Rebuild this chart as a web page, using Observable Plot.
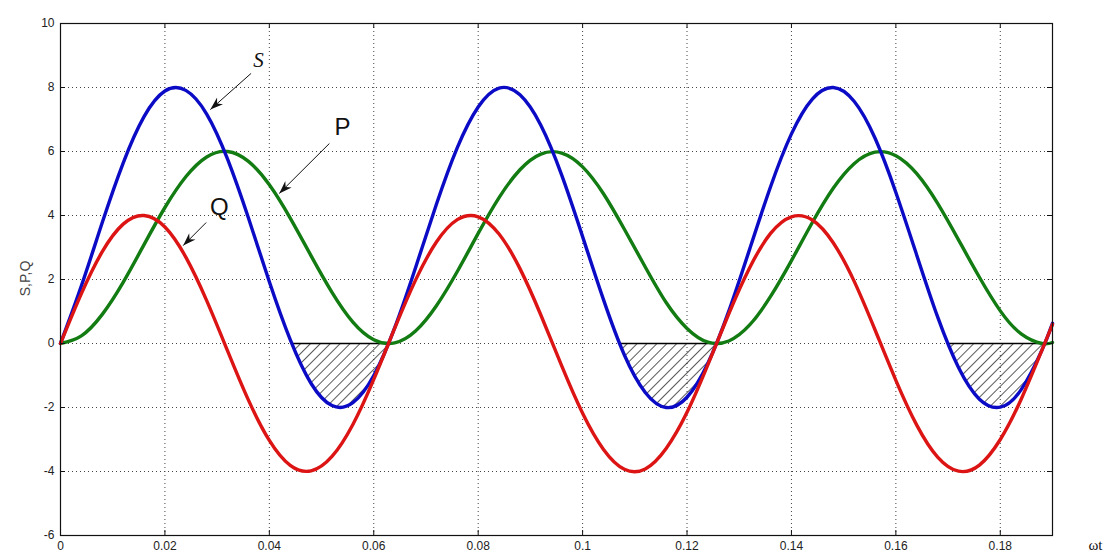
<!DOCTYPE html>
<html>
<head>
<meta charset="utf-8">
<script src="https://cdn.jsdelivr.net/npm/d3@7"></script>
<script src="https://cdn.jsdelivr.net/npm/@observablehq/plot@0.6"></script>
<style>
  html, body { margin: 0; padding: 0; background: white; }
</style>
</head>
<body>
<script>
// ---- data ----
const xs = [0, 0.004, 0.008, 0.012, 0.016, 0.020, 0.024, 0.028, 0.032, 0.036,
            0.040, 0.044, 0.048, 0.052, 0.056, 0.060, 0.064, 0.068, 0.072, 0.076,
            0.080, 0.084, 0.088, 0.092, 0.096, 0.100, 0.104, 0.108, 0.112, 0.116,
            0.120, 0.124, 0.128, 0.132, 0.136, 0.140, 0.144, 0.148, 0.152, 0.156,
            0.160, 0.164, 0.168, 0.172, 0.176, 0.180, 0.184, 0.188, 0.190];
const P = [0, 0.24, 0.91, 1.91, 3.09, 4.25, 5.21, 5.83, 6.00, 5.69,
           4.96, 3.92, 2.74, 1.60, 0.67, 0.12, 0.02, 0.39, 1.18, 2.25,
           3.44, 4.56, 5.43, 5.92, 5.95, 5.52, 4.68, 3.57, 2.39, 1.28,
           0.47, 0.04, 0.08, 0.58, 1.47, 2.59, 3.78, 4.85, 5.62, 5.98,
           5.87, 5.31, 4.38, 3.24, 2.07, 1.02, 0.30, 0.00, 0.03];
const Q = [0, 1.56, 2.87, 3.73, 4.00, 3.64, 2.70, 1.34, -0.23, -1.77,
           -3.03, -3.81, -3.98, -3.53, -2.53, -1.12, 0.47, 1.98, 3.17, 3.87,
           3.96, 3.42, 2.34, 0.89, -0.70, -2.18, -3.31, -3.93, -3.92, -3.28,
           -2.15, -0.66, 0.93, 2.37, 3.44, 3.96, 3.86, 3.15, 1.95, 0.43,
           -1.15, -2.55, -3.55, -3.99, -3.80, -3.00, -1.74, -0.20, 0.60];
const S = [0, 1.80, 3.78, 5.64, 7.09, 7.89, 7.91, 7.17, 5.76, 3.92,
           1.93, 0.12, -1.25, -1.94, -1.85, -1.00, 0.49, 2.37, 4.35, 6.12,
           7.39, 7.98, 7.77, 6.82, 5.26, 3.34, 1.37, -0.36, -1.53, -2.00,
           -1.68, -0.62, 1.01, 2.95, 4.90, 6.55, 7.64, 8.00, 7.57, 6.42,
           4.72, 2.76, 0.83, -0.75, -1.74, -1.99, -1.44, -0.20, 0.63];

// hatched regions (S below zero), start and end on the zero line
const hatchStart = [0.0443, 0.1071, 0.1699];
const hatchEnd   = [0.0628, 0.1257, 0.1885];

const xTicks = [0, 0.02, 0.04, 0.06, 0.08, 0.1, 0.12, 0.14, 0.16, 0.18];
const yTicks = [-6, -4, -2, 0, 2, 4, 6, 8, 10];

const labelNames = ["S", "P", "Q"];
const labelX = [0.0379, 0.0540, 0.0304];
const labelY = [8.85, 6.75, 4.25];
const arrowX1 = [0.0365, 0.0515, 0.0279];
const arrowY1 = [8.44, 6.25, 3.78];
const arrowX2 = [0.0287, 0.0419, 0.0235];
const arrowY2 = [7.31, 4.69, 3.06];

// ---- tables built from the arrays ----
const data = xs.map((x, i) => ({x, P: P[i], Q: Q[i], S: S[i]}));
const hatches = hatchStart.map((a, i) => ({x1: a, x2: hatchEnd[i]}));
const labels = labelNames.map((t, i) => ({t, x: labelX[i], y: labelY[i]}));
const arrows = labelNames.map((t, i) => ({x1: arrowX1[i], y1: arrowY1[i], x2: arrowX2[i], y2: arrowY2[i]}));

const W = 1114, H = 559;
const mL = 60, mR = 62, mT = 23, mB = 24;
const fw = W - mL - mR, fh = H - mT - mB;
const fmt = d => String(+d.toFixed(2));
const grid = {stroke: "#444", strokeOpacity: 1, strokeWidth: 1, strokeDasharray: "1,3"};

const plot = Plot.plot({
  width: W, height: H,
  marginLeft: mL, marginRight: mR, marginTop: mT, marginBottom: mB,
  style: {fontFamily: "'Liberation Sans', Arial, sans-serif", fontSize: "12px", background: "white", color: "#222"},
  x: {domain: [0, 0.19], label: null},
  y: {domain: [-6, 10], label: null},
  marks: [
    Plot.gridX(xTicks, grid),
    Plot.gridY(yTicks, grid),
    Plot.areaY(data, {x: "x", y1: 0, y2: "S", curve: "natural", fill: "url(#hatch)"}),
    Plot.ruleY(hatches, {x1: "x1", x2: "x2", y: 0, stroke: "black", strokeWidth: 1.4}),
    Plot.line(data, {x: "x", y: "P", stroke: "#127c12", strokeWidth: 3.4, curve: "natural"}),
    Plot.line(data, {x: "x", y: "S", stroke: "#0b0bc6", strokeWidth: 3.4, curve: "natural"}),
    Plot.line(data, {x: "x", y: "Q", stroke: "#dc1414", strokeWidth: 3.4, curve: "natural"}),
    Plot.frame({stroke: "#111", strokeWidth: 1.2}),
    Plot.ruleX(xTicks, {insetTop: fh - 5, stroke: "#111"}),
    Plot.ruleX(xTicks, {insetBottom: fh - 5, stroke: "#111"}),
    Plot.ruleY(yTicks, {insetRight: fw - 5, stroke: "#111"}),
    Plot.ruleY(yTicks, {insetLeft: fw - 5, stroke: "#111"}),
    Plot.axisX(xTicks, {tickSize: 0, tickPadding: 6, tickFormat: fmt, label: null, fill: "#222"}),
    Plot.axisY(yTicks, {tickSize: 0, tickPadding: 6, tickFormat: fmt, label: null, fill: "#222"}),
    Plot.link(arrows, {x1: "x1", y1: "y1", x2: "x2", y2: "y2", stroke: "#111", strokeWidth: 1}),
    Plot.text(labels.filter(d => d.t === "S"), {x: "x", y: "y", text: "t", fontFamily: "'Liberation Serif', 'Times New Roman', serif", fontStyle: "italic", fontSize: 21, fill: "#111"}),
    Plot.text(labels.filter(d => d.t !== "S"), {x: "x", y: "y", text: "t", fontFamily: "'Liberation Sans', Arial, sans-serif", fontSize: 24, fill: "#111"}),
    Plot.text(["S,P,Q"], {frameAnchor: "left", dx: -35, dy: -1, rotate: -90, textAnchor: "middle", lineAnchor: "middle", fontSize: 14, fill: "#444"}),
    Plot.text(["ωt"], {frameAnchor: "bottom-right", dx: 43, dy: 10, textAnchor: "middle", lineAnchor: "middle", fontFamily: "'Liberation Serif', 'Times New Roman', serif", fontSize: 15, fill: "#111"})
  ]
});

// hatch pattern, filled arrow heads and clip below the zero line
const y0 = plot.scale("y").apply(0);
const ns = "http://www.w3.org/2000/svg";
const defs = document.createElementNS(ns, "defs");
defs.innerHTML =
  `<pattern id="hatch" patternUnits="userSpaceOnUse" width="7" height="7" patternTransform="rotate(45)"><line x1="0" y1="-1" x2="0" y2="8" stroke="black" stroke-width="1.3"/></pattern>` +
  `<marker id="ahead" viewBox="-13 -5 14 10" refX="0" refY="0" markerWidth="14" markerHeight="10" markerUnits="userSpaceOnUse" orient="auto"><path d="M0,0 L-13,-4.5 L-9,0 L-13,4.5 Z" fill="#111"/></marker>` +
  `<clipPath id="belowZero"><rect x="${mL}" y="${y0}" width="${fw}" height="${H - mB - y0}"/></clipPath>`;
plot.insertBefore(defs, plot.firstChild);
const areaG = plot.querySelector('g[aria-label="area"]');
if (areaG) areaG.setAttribute("clip-path", "url(#belowZero)");
plot.querySelectorAll('g[aria-label="link"] path').forEach(p => p.setAttribute("marker-end", "url(#ahead)"));

document.body.append(plot);
</script>
</body>
</html>
